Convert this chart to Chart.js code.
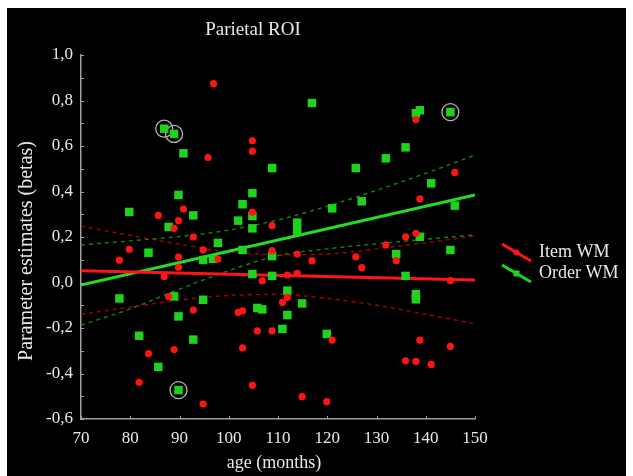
<!DOCTYPE html>
<html>
<head>
<meta charset="utf-8">
<title>Parietal ROI</title>
<script src="https://cdn.jsdelivr.net/npm/chart.js"></script>
<style>
  html, body { margin: 0; padding: 0; background: #fff; }
</style>
</head>
<body>
<canvas id="roiChart" width="633" height="476"></canvas>
<script>
// Item WM (red circles)
const itemAge = [96.9, 104.8, 104.8, 95.8, 85.7, 90.8, 89.8, 88.9, 104.8, 108.8, 92.8, 138, 145.9, 138.8,
	135.9, 138, 79.8, 77.8, 89.8, 89.8, 94.8, 97.8, 108.8, 86.9, 106.8, 87.8, 92.8, 101.9, 102.8, 110.9,
	105.8, 108.8, 83.7, 88.9, 102.8, 81.8, 104.8, 94.8, 131.9, 113.9, 116.9, 125.8, 127, 134, 111.9, 113.9,
	145, 111.9, 121, 138.8, 145, 135.9, 138, 141.1, 114.9, 119.9];
const itemBeta = [0.874, 0.623, 0.577, 0.549, 0.295, 0.323, 0.272, 0.238, 0.309, 0.25, 0.2, 0.716, 0.484, 0.368,
	0.201, 0.216, 0.146, 0.098, 0.112, 0.067, 0.143, 0.103, 0.14, 0.026, 0.007, -0.062, -0.121, -0.131, -0.125, -0.087,
	-0.213, -0.213, -0.313, -0.295, -0.287, -0.439, -0.452, -0.534, 0.165, 0.125, 0.096, 0.113, 0.065, 0.096, 0.033, 0.04,
	0.008, -0.065, -0.253, -0.253, -0.281, -0.344, -0.347, -0.36, -0.502, -0.524];

// Order WM (green squares)
const orderAge = [86.9, 88.9, 90.8, 108.8, 89.8, 104.8, 102.8, 79.8, 92.8, 104.8, 101.9, 87.8, 104.8, 116.9,
	138, 138.8, 145, 135.9, 131.9, 125.8, 141.1, 127, 121, 145.9, 113.9, 113.9, 138.8, 108.8, 83.7, 97.8,
	102.8, 94.8, 96.8, 104.8, 108.8, 77.8, 88.9, 94.8, 89.8, 105.8, 106.8, 110.9, 81.8, 92.8, 85.7, 89.8,
	134, 145, 135.9, 138, 138, 111.9, 114.9, 111.9, 119.9];
const orderBeta = [0.676, 0.653, 0.568, 0.503, 0.385, 0.393, 0.344, 0.31, 0.295, 0.292, 0.272, 0.244, 0.238, 0.789,
	0.744, 0.757, 0.749, 0.594, 0.546, 0.503, 0.436, 0.357, 0.326, 0.338, 0.263, 0.228, 0.201, 0.116, 0.131, 0.174,
	0.143, 0.099, 0.104, 0.037, 0.029, -0.07, -0.061, -0.076, -0.149, -0.112, -0.118, -0.204, -0.234, -0.251, -0.371, -0.473,
	0.125, 0.143, 0.029, -0.051, -0.074, -0.036, -0.092, -0.143, -0.226];

// highlighted points
const circledAge = [86.9, 88.9, 89.8, 145];
const circledBeta = [0.676, 0.653, -0.473, 0.749];

// regression fits
const fitAge = [70, 150];
const itemFit = [0.052, 0.011];
const orderFit = [-0.011, 0.385];

// confidence bands
const bandAge = [70, 80, 90, 100, 110, 120, 130, 140, 150];
const itemUpper = [0.248, 0.207, 0.168, 0.135, 0.122, 0.125, 0.148, 0.175, 0.204];
const itemLower = [-0.14, -0.108, -0.078, -0.057, -0.053, -0.07, -0.1, -0.14, -0.182];
const orderUpper = [0.165, 0.183, 0.202, 0.23, 0.275, 0.335, 0.405, 0.48, 0.56];
const orderLower = [-0.187, -0.116, -0.029, 0.052, 0.118, 0.148, 0.17, 0.19, 0.209];

const xTickLabels = ["70", "80", "90", "100", "110", "120", "130", "140", "150"];
const yTickLabels = ["-0,6", "-0,4", "-0,2", "0,0", "0,2", "0,4", "0,6", "0,8", "1,0"];

const zip = (xs, ys) => xs.map((x, i) => ({ x: x, y: ys[i] }));

const SERIF = "'Liberation Serif', 'Times New Roman', serif";
const TEXT = "#e8e8e8";
const RED = "#ff1414";
const GREEN = "#1ed21e";

const band = (data, color) => ({
	type: "line",
	data: data,
	borderColor: color,
	borderWidth: 1.4,
	borderDash: [4, 4],
	pointRadius: 0,
	cubicInterpolationMode: "monotone",
	fill: false,
});

const backdrop = {
	id: "backdrop",
	beforeDraw(chart) {
		const ctx = chart.ctx;
		ctx.save();
		ctx.fillStyle = "#000";
		ctx.fillRect(7, 8, 619, 468);
		ctx.restore();
	},
};

const decorations = {
	id: "decorations",
	afterDraw(chart) {
		const ctx = chart.ctx;
		const area = chart.chartArea;
		const xs = chart.scales.x;
		const ys = chart.scales.y;
		ctx.save();
		// inward tick marks
		ctx.strokeStyle = "#a0a0a0";
		ctx.lineWidth = 1;
		for (const t of ys.ticks) {
			const py = Math.round(ys.getPixelForValue(t.value)) + 0.5;
			ctx.beginPath();
			ctx.moveTo(area.left, py);
			ctx.lineTo(area.left + 3, py);
			ctx.stroke();
		}
		for (const t of xs.ticks) {
			const px = Math.round(xs.getPixelForValue(t.value)) + 0.5;
			ctx.beginPath();
			ctx.moveTo(px, area.bottom);
			ctx.lineTo(px, area.bottom - 3);
			ctx.stroke();
		}

		// titles
		ctx.fillStyle = TEXT;
		ctx.textAlign = "center";
		ctx.textBaseline = "middle";
		ctx.font = "19px " + SERIF;
		ctx.fillText("Parietal ROI", 253, 30);
		ctx.font = "18px " + SERIF;
		ctx.fillText("age (months)", 274, 463);
		ctx.save();
		ctx.translate(27, 251);
		ctx.rotate(-Math.PI / 2);
		ctx.font = "20px " + SERIF;
		ctx.fillText("Parameter estimates (betas)", 0, 0);
		ctx.restore();

		// legend
		const entries = [
			{ label: "Item WM", color: RED, y: 244, mark: "dot" },
			{ label: "Order WM", color: GREEN, y: 265, mark: "rect" },
		];
		ctx.textAlign = "left";
		ctx.font = "18px " + SERIF;
		for (const e of entries) {
			ctx.strokeStyle = e.color;
			ctx.fillStyle = e.color;
			ctx.lineWidth = 3;
			ctx.beginPath();
			ctx.moveTo(502, e.y);
			ctx.lineTo(531, e.y + 17);
			ctx.stroke();
			if (e.mark === "dot") {
				ctx.beginPath();
				ctx.arc(516.5, e.y + 8.5, 3, 0, Math.PI * 2);
				ctx.fill();
			} else {
				ctx.fillRect(513.5, e.y + 5.5, 6, 6);
			}
			ctx.fillStyle = TEXT;
			ctx.fillText(e.label, 539, e.y + 8);
		}
		ctx.restore();
	},
};

new Chart(document.getElementById("roiChart"), {
	type: "scatter",
	data: {
		datasets: [
			{
				label: "Item WM",
				data: zip(itemAge, itemBeta),
				pointStyle: "circle",
				pointRadius: 3.6,
				backgroundColor: RED,
				borderWidth: 0,
			},
			{
				label: "Order WM",
				data: zip(orderAge, orderBeta),
				pointStyle: "rect",
				pointRadius: 6,
				backgroundColor: GREEN,
				borderWidth: 0,
			},
			{
				label: "highlight",
				data: zip(circledAge, circledBeta),
				pointStyle: "circle",
				pointRadius: 8.5,
				backgroundColor: "transparent",
				borderColor: "#b4b4b4",
				borderWidth: 1.3,
			},
			{
				type: "line",
				label: "Item fit",
				data: zip(fitAge, itemFit),
				borderColor: RED,
				borderWidth: 3,
				pointRadius: 0,
			},
			{
				type: "line",
				label: "Order fit",
				data: zip(fitAge, orderFit),
				borderColor: "#22dd22",
				borderWidth: 3,
				pointRadius: 0,
			},
			band(zip(bandAge, itemUpper), "#a80000"),
			band(zip(bandAge, itemLower), "#a80000"),
			band(zip(bandAge, orderUpper), "#0c8a0c"),
			band(zip(bandAge, orderLower), "#0c8a0c"),
		],
	},
	options: {
		responsive: false,
		animation: false,
		layout: { padding: { left: 0, right: 158, top: 55, bottom: 0 } },
		plugins: {
			legend: { display: false },
			tooltip: { enabled: false },
			title: { display: false },
		},
		scales: {
			x: {
				type: "linear",
				min: 70,
				max: 150,
				afterFit(scale) { scale.height = 57; },
				border: { color: "#a0a0a0", width: 1.5 },
				grid: { display: false, drawTicks: false },
				ticks: {
					stepSize: 10,
					padding: 9,
					color: TEXT,
					font: { family: SERIF, size: 17 },
					callback: (v) => xTickLabels[Math.round((v - 70) / 10)],
				},
			},
			y: {
				type: "linear",
				min: -0.6,
				max: 1.0,
				afterFit(scale) { scale.width = 81; },
				border: { color: "#a0a0a0", width: 1.5 },
				grid: { display: false, drawTicks: false },
				ticks: {
					stepSize: 0.1,
					padding: 8,
					autoSkip: false,
					color: TEXT,
					font: { family: SERIF, size: 17 },
					callback: (v) => {
						const n = Math.round(v * 10) + 6;
						return n % 2 === 0 ? yTickLabels[n / 2] : "";
					},
				},
			},
		},
	},
	plugins: [backdrop, decorations],
});
</script>
</body>
</html>
